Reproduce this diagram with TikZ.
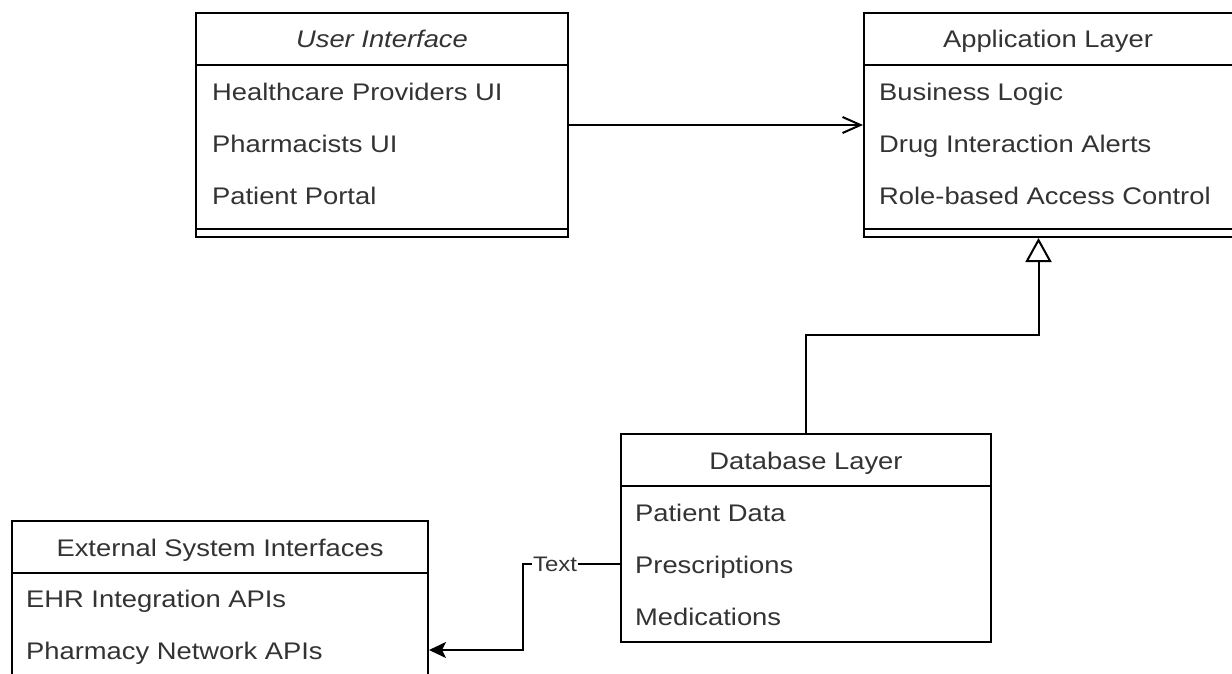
\documentclass[tikz,border=0pt]{standalone}
\usepackage{fontspec}
\setmainfont{Liberation Sans}
\usetikzlibrary{arrows.meta,fit}

\definecolor{txtgray}{RGB}{51,51,51}
\tikzset{every picture/.style={line width=1.5pt}}
\tikzset{
  classbox/.style={draw, inner sep=0pt},
  hdr/.style={inner sep=0pt, text=txtgray, xscale=1.14, text height=13.5pt, text depth=0pt, font=\fontsize{18}{22}\selectfont},
  item/.style={hdr, anchor=west},
  edgelbl/.style={fill=white, inner sep=1pt, text=txtgray, xscale=1.14, font=\fontsize{15.75}{18}\selectfont},
  openhead/.style={-{Straight Barb[length=13.5pt, width=12pt]}},
  hollowtri/.style={-{Triangle[open, length=18pt, width=19.5pt, fill=white]}},
  solidtip/.style={-{Stealth[length=12.75pt, width=12pt, inset=3pt]}}
}

\begin{document}
\begin{tikzpicture}[x=0.75pt,y=0.75pt,yscale=-1,xscale=1]
		\path[use as bounding box, clip] (0,0) rectangle (1232,674);

		%Shape: Class [id:ui]
		\node [classbox, fit={(196,13) (568,237)}] (ui) {};
		\draw (196,65) -- (568,65) ;
		\draw (196,229) -- (568,229) ;
		% Text Node
		\node [hdr] (uihead) at (382,39) {\itshape User Interface};
		\node [item] (ui1) at (211,91) {Healthcare Providers UI};
		\node [item] (ui2) at (211,143) {Pharmacists UI};
		\node [item] (ui3) at (211,195) {Patient Portal};

		%Shape: Class [id:app]
		\node [classbox, fit={(864,13) (1233,237)}] (app) {};
		\draw (864,65) -- (1233,65) ;
		\draw (864,229) -- (1233,229) ;
		% Text Node
		\node [hdr] (apphead) at (1048,39) {Application Layer};
		\node [item] (app1) at (878,91) {Business Logic};
		\node [item] (app2) at (878,143) {Drug Interaction Alerts};
		\node [item] (app3) at (878,195) {Role-based Access Control};

		%Shape: Class [id:db]
		\node [classbox, fit={(621,434) (991,642)}] (db) {};
		\draw (621,486) -- (991,486) ;
		% Text Node
		\node [hdr] (dbhead) at (806,460) {Database Layer};
		\node [item] (db1) at (634,512) {Patient Data};
		\node [item] (db2) at (634,564) {Prescriptions};
		\node [item] (db3) at (634,616) {Medications};

		%Shape: Class [id:ext]
		\node [classbox, fit={(12,521) (428,700)}] (ext) {};
		\draw (12,573) -- (428,573) ;
		% Text Node
		\node [hdr] (exthead) at (220,547) {External System Interfaces};
		\node [item] (ext1) at (25,598) {EHR Integration APIs};
		\node [item] (ext2) at (25,650) {Pharmacy Network APIs};

		%Straight Lines [id:ui-app]
		\draw [openhead] (ui.east) -- (app.west) ;
		%Elbow Lines [id:db-app]
		\draw [hollowtri] (db.north) -- ++(0,-98) -| ([xshift=-7.5pt]app.south) ;
		%Elbow Lines [id:db-ext]
		\draw [solidtip] (db.west |- db2) -- node [edgelbl, pos=0.67] (lbl) {Text} ++(-97,0) |- (ext.east |- ext2) ;

	\end{tikzpicture}
\end{document}
